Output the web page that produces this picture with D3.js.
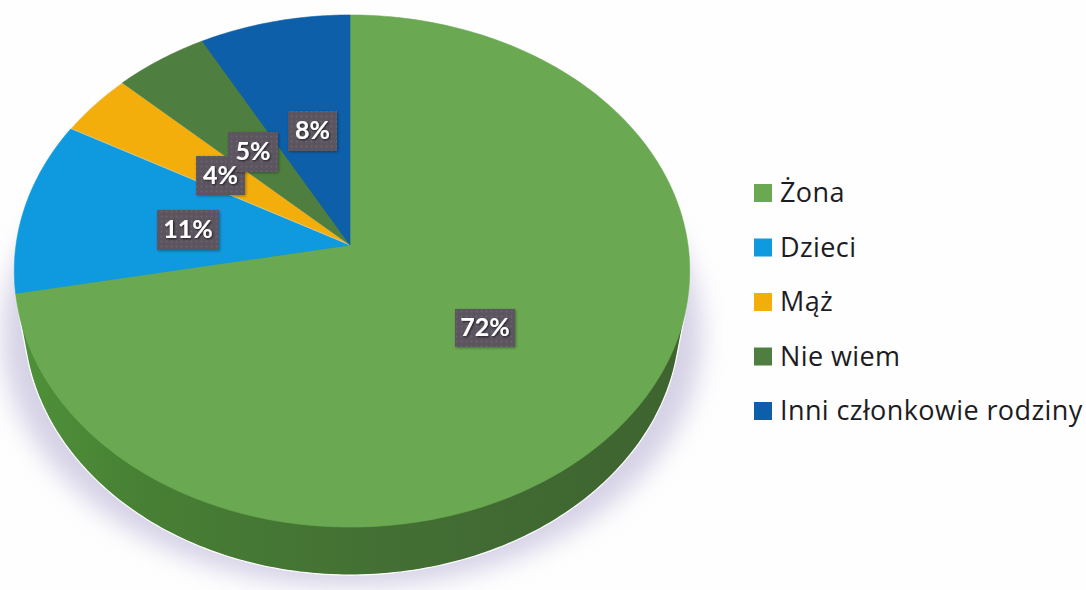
<!DOCTYPE html>
<html><head><meta charset="utf-8">
<script src="https://cdn.jsdelivr.net/npm/d3@7"></script>
<style>html,body{margin:0;padding:0;background:#fefefe}svg{display:block}text{font-family:"Open Sans",Lato,sans-serif}</style>
</head><body><svg id="c" width="1086" height="590"></svg>
<script>
const categories=["Żona","Dzieci","Mąż","Nie wiem","Inni członkowie rodziny"];
const values=[72,11,4,5,8];
const colors=["#6aa952","#0f9ae0","#f4ae0c","#4f7f40","#0e5fa9"];
const labelText=["72%","11%","4%","5%","8%"];
const labelBoxes=[[455,309,60,38],[157,210,62,40],[196,156,49,39],[228,132,50,40],[288,111,49,40]];

const svg=d3.select("#c");
const defs=svg.append("defs");
defs.append("filter").attr("id","soft").attr("x","-20%").attr("y","-20%").attr("width","140%").attr("height","140%")
  .append("feGaussianBlur").attr("stdDeviation",12);
const ts=defs.append("filter").attr("id","ts").attr("x","-20%").attr("y","-20%").attr("width","140%").attr("height","140%");
ts.append("feDropShadow").attr("dx",1).attr("dy",1).attr("stdDeviation",1).attr("flood-color","#000").attr("flood-opacity",.7);
const bs=defs.append("filter").attr("id","bs").attr("x","-20%").attr("y","-20%").attr("width","140%").attr("height","140%");
bs.append("feDropShadow").attr("dx",1).attr("dy",1).attr("stdDeviation",1.5).attr("flood-color","#000").attr("flood-opacity",.35);
const pat=defs.append("pattern").attr("id","dots").attr("width",5).attr("height",5).attr("patternUnits","userSpaceOnUse");
pat.append("rect").attr("width",5).attr("height",5).attr("fill","#5b5461");
pat.append("circle").attr("cx",1.5).attr("cy",1.5).attr("r",1).attr("fill","#6b6470");
const side=defs.append("linearGradient").attr("id","side").attr("x1",0).attr("x2",1).attr("y1",0).attr("y2",0);
[[0,"#4f9239"],[.2,"#477f34"],[.55,"#436f34"],[1,"#3e632f"]].forEach(d=>side.append("stop").attr("offset",d[0]).attr("stop-color",d[1]));

// perspective view of a round pie: apex, scale and foreshortening
const apex=[350,245],bL=334,bR=338,a=253.4,k=0.1016;
const project=(t,r=1)=>{const u=r*Math.sin(t),v=r*Math.cos(t),w=1+k*v;return [apex[0]+(u<0?bL:bR)*u/w,apex[1]-a*v/w];};
const arcs=d3.pie().sort(null).value(d=>d)(values);
const line=d3.line();
const wedge=d=>{
  const n=Math.max(2,Math.ceil((d.endAngle-d.startAngle)*60));
  const pts=[apex].concat(d3.range(n+1).map(i=>project(d.startAngle+(d.endAngle-d.startAngle)*i/n)));
  return line(pts)+"Z";
};
const depth=48;
const rimAll=d3.range(361).map(i=>project(i*Math.PI/180));

svg.append("ellipse").attr("cx",352).attr("cy",335).attr("rx",350).attr("ry",252)
  .attr("fill","#cfcae2").attr("opacity",.85).attr("filter","url(#soft)");
const ext=d3.range(361).map(i=>{const p=rimAll[i];const inset=0.972;return [apex[0]+(p[0]-apex[0])*inset,p[1]+depth];});
const hull=d3.polygonHull(rimAll.concat(ext));
svg.append("path").attr("d",line(hull)+"Z").attr("fill","url(#side)").attr("stroke","#fff").attr("stroke-width",1.2);
svg.selectAll("path.s").data(arcs).join("path").attr("class","s").attr("d",wedge)
  .attr("fill",(d,i)=>colors[i]).attr("stroke",(d,i)=>i==2?"#f0e6d0":colors[i]).attr("stroke-width",.6);

labelBoxes.forEach(r=>{
  svg.append("rect").attr("x",r[0]).attr("y",r[1]).attr("width",r[2]).attr("height",r[3]).attr("fill","url(#dots)").attr("filter","url(#bs)");
});
labelBoxes.forEach((r,i)=>{
  svg.append("text").attr("x",r[0]+r[2]/2).attr("y",r[1]+r[3]/2+8).attr("text-anchor","middle")
    .style("font-family","Lato").attr("font-size",25).attr("font-weight",700).attr("fill","#fff").attr("filter","url(#ts)").text(labelText[i]);
});

const legendY=d3.scalePoint().domain(categories).range([202,420]);
const lg=svg.selectAll("g.l").data(categories).join("g").attr("class","l");
lg.append("rect").attr("x",754).attr("y",d=>legendY(d)-18).attr("width",18).attr("height",18).attr("fill",(d,i)=>colors[i]);
lg.append("text").attr("x",780).attr("y",d=>legendY(d)).attr("font-size",27).attr("letter-spacing",.4).attr("fill","#1c1c22").text(d=>d);
</script></body></html>
